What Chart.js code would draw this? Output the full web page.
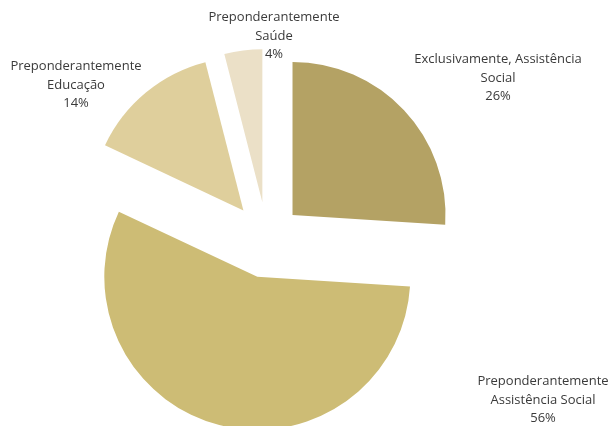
<!DOCTYPE html>
<html>
<head>
<meta charset="utf-8">
<script src="https://cdn.jsdelivr.net/npm/chart.js@4"></script>
<style>
  body { margin: 0; background: #fff; }
  #wrap { width: 610px; height: 426px; position: relative; }
</style>
</head>
<body>
<div id="wrap"><canvas id="chart"></canvas></div>
<script>
// data
const categories = [
    ['Exclusivamente, Assistência', 'Social'],
    ['Preponderantemente', 'Assistência Social'],
    ['Preponderantemente', 'Educação'],
    ['Preponderantemente', 'Saúde']
];
const shares = [26, 56, 14, 4];

const sliceColors = ['#b4a264', '#cdbc75', '#dfcf9c', '#ebe0c7'];
// how far each slice is pulled out, px
const explode = [35, 39, 37, 37];
// label anchor relative to pie centre (middle line), px
const labelShift = [[231, -161], [276, 161], [-191, -154], [7, -203]];

// draw the arcs ourselves so each one is shifted along its mid angle
const explodePlugin = {
    id: 'explode',
    beforeDatasetDraw(chart, args) {
        const ctx = chart.ctx;
        args.meta.data.forEach((arc, i) => {
            const mid = (arc.startAngle + arc.endAngle) / 2;
            ctx.save();
            ctx.translate(Math.cos(mid) * explode[i], Math.sin(mid) * explode[i]);
            arc.draw(ctx);
            ctx.restore();
        });
        return false;
    }
};

const labelPlugin = {
    id: 'sliceLabels',
    afterDatasetsDraw(chart) {
        const ctx = chart.ctx;
        const meta = chart.getDatasetMeta(0);
        const lineH = 18.5;
        ctx.save();
        ctx.font = '13px "Open Sans"';
        ctx.fillStyle = '#3a3a3a';
        ctx.textAlign = 'center';
        ctx.textBaseline = 'middle';
        meta.data.forEach((arc, i) => {
            const lines = categories[i].concat([shares[i] + '%']);
            const x = arc.x + labelShift[i][0];
            const y = arc.y + labelShift[i][1];
            const top = y - (lines.length - 1) / 2 * lineH;
            lines.forEach((t, k) => ctx.fillText(t, x, top + k * lineH));
        });
        ctx.restore();
    }
};

new Chart(document.getElementById('chart'), {
    type: 'pie',
    data: {
        labels: categories,
        datasets: [{
            data: shares,
            backgroundColor: sliceColors,
            borderWidth: 0
        }]
    },
    options: {
        responsive: true,
        maintainAspectRatio: false,
        animation: false,
        radius: 153,
        layout: { padding: { left: 0, right: 76, top: 52, bottom: 0 } },
        plugins: {
            legend: { display: false },
            tooltip: { enabled: false }
        }
    },
    plugins: [explodePlugin, labelPlugin]
});
</script>
</body>
</html>
